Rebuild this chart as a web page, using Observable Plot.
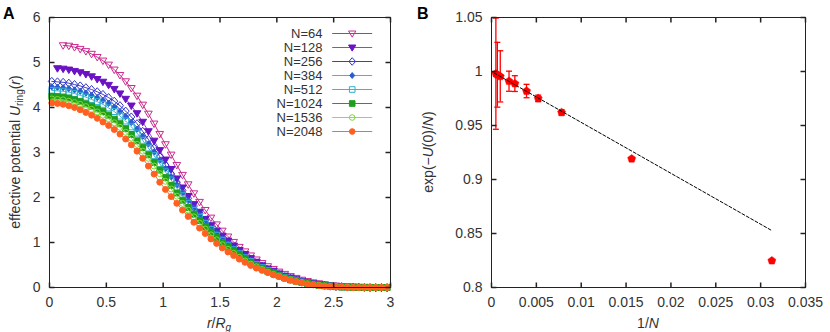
<!DOCTYPE html>
<html>
<head>
<meta charset="utf-8">
<script src="https://cdn.jsdelivr.net/npm/d3@7"></script>
<script src="https://cdn.jsdelivr.net/npm/@observablehq/plot@0.6"></script>
<style>
  html, body { margin: 0; padding: 0; background: #fff; }
  #wrap { position: relative; width: 830px; height: 332px; overflow: hidden; font-family: 'Liberation Sans', Arial, sans-serif; }
  #pa, #pb, #leg, #ov { position: absolute; top: 0; }
  #pa { left: 0; }
  #pb { left: 430px; }
  #leg { left: 230px; top: 22px; }
  #ov { left: 0; pointer-events: none; }
</style>
</head>
<body>
<div id="wrap">
  <div id="pa"></div>
  <div id="pb"></div>
  <div id="leg"></div>
  <svg id="ov" width="830" height="332" font-family="'Liberation Sans', Arial, sans-serif" font-size="14" fill="#333">
    <text x="3" y="18.5" font-weight="bold" font-size="16" fill="#000">A</text>
    <text x="417" y="18.5" font-weight="bold" font-size="16" fill="#000">B</text>
    <text x="219" y="327.5" text-anchor="middle"><tspan font-style="italic">r</tspan>/<tspan font-style="italic">R</tspan><tspan font-style="italic" font-size="10" dy="3">g</tspan></text>
    <text x="648" y="327.5" text-anchor="middle">1/<tspan font-style="italic">N</tspan></text>
    <text transform="translate(20,152) rotate(-90)" text-anchor="middle">effective potential <tspan font-style="italic">U</tspan><tspan font-size="10" dy="3">ring</tspan><tspan dy="-3">(</tspan><tspan font-style="italic">r</tspan>)</text>
    <text transform="translate(433,152) rotate(-90)" text-anchor="middle">exp(−<tspan font-style="italic">U</tspan>(0)/<tspan font-style="italic">N</tspan>)</text>
  </svg>
</div>
<script>
// ---------------- Panel A data ----------------
const rGrid = [
  0.02,0.07,0.12,0.17,0.22,0.27,0.32,0.37,0.42,0.47,
  0.52,0.57,0.62,0.67,0.72,0.77,0.82,0.87,0.92,0.97,
  1.02,1.07,1.12,1.17,1.22,1.27,1.32,1.37,1.42,1.47,
  1.52,1.57,1.62,1.67,1.72,1.77,1.82,1.87,1.92,1.97,
  2.02,2.07,2.12,2.17,2.22,2.27,2.32,2.37,2.42,2.47,
  2.52,2.57,2.62,2.67,2.72,2.77,2.82,2.87,2.92,2.97
];
const u64 = [
  null,null,5.38,5.37,5.34,5.30,5.25,5.19,5.12,5.04,
  4.95,4.84,4.72,4.58,4.43,4.26,4.06,3.86,3.64,3.41,
  3.18,2.95,2.72,2.50,2.29,2.09,1.90,1.72,1.55,1.40,
  1.26,1.13,1.01,0.90,0.80,0.71,0.62,0.54,0.47,0.41,
  0.35,0.30,0.25,0.21,0.17,0.14,0.11,0.09,0.07,0.05,
  0.04,0.03,0.02,0.02,0.01,0.01,0.01,0.00,0.00,0.00
];
const u128 = [
  null,4.87,4.86,4.84,4.81,4.78,4.74,4.69,4.63,4.57,
  4.50,4.41,4.31,4.19,4.04,3.87,3.68,3.47,3.26,3.05,
  2.84,2.63,2.42,2.22,2.03,1.85,1.68,1.52,1.38,1.26,
  1.15,1.04,0.93,0.83,0.74,0.65,0.57,0.49,0.42,0.37,
  0.31,0.26,0.22,0.18,0.14,0.11,0.09,0.07,0.05,0.04,
  0.03,0.02,0.02,0.01,0.01,0.01,0.00,0.00,0.00,0.00
];
const u256 = [
  4.58,4.57,4.56,4.54,4.51,4.48,4.44,4.40,4.35,4.29,
  4.22,4.14,4.04,3.92,3.79,3.64,3.47,3.29,3.10,2.91,
  2.72,2.53,2.34,2.16,1.98,1.81,1.65,1.50,1.36,1.23,
  1.11,1.00,0.89,0.79,0.70,0.62,0.54,0.47,0.40,0.34,
  0.29,0.24,0.20,0.16,0.13,0.10,0.08,0.06,0.05,0.03,
  0.02,0.02,0.01,0.01,0.01,0.00,0.00,0.00,0.00,0.00
];
const u384 = [
  4.46,4.45,4.44,4.42,4.39,4.36,4.32,4.27,4.22,4.16,
  4.09,4.01,3.91,3.80,3.67,3.52,3.36,3.19,3.01,2.83,
  2.64,2.46,2.28,2.10,1.93,1.76,1.61,1.46,1.32,1.20,
  1.08,0.97,0.86,0.77,0.68,0.60,0.52,0.45,0.39,0.33,
  0.28,0.23,0.19,0.15,0.12,0.10,0.07,0.06,0.04,0.03,
  0.02,0.02,0.01,0.01,0.00,0.00,0.00,0.00,0.00,0.00
];
const u512 = [
  4.38,4.37,4.36,4.34,4.31,4.27,4.23,4.18,4.13,4.07,
  3.99,3.91,3.81,3.70,3.57,3.43,3.27,3.10,2.93,2.75,
  2.57,2.39,2.21,2.04,1.87,1.71,1.56,1.42,1.29,1.16,
  1.05,0.94,0.84,0.75,0.66,0.58,0.51,0.44,0.38,0.32,
  0.27,0.22,0.18,0.15,0.12,0.09,0.07,0.05,0.04,0.03,
  0.02,0.01,0.01,0.01,0.00,0.00,0.00,0.00,0.00,0.00
];
const u1024 = [
  4.25,4.24,4.23,4.21,4.17,4.13,4.08,4.03,3.97,3.91,
  3.83,3.74,3.64,3.53,3.40,3.26,3.11,2.95,2.78,2.61,
  2.44,2.27,2.10,1.94,1.78,1.63,1.49,1.35,1.23,1.11,
  1.00,0.90,0.80,0.71,0.63,0.55,0.48,0.42,0.36,0.31,
  0.26,0.21,0.17,0.14,0.11,0.09,0.07,0.05,0.04,0.03,
  0.02,0.01,0.01,0.00,0.00,0.00,0.00,0.00,0.00,0.00
];
const u1536 = [
  4.19,4.18,4.17,4.14,4.11,4.07,4.02,3.96,3.90,3.83,
  3.75,3.66,3.56,3.45,3.32,3.18,3.03,2.87,2.70,2.53,
  2.36,2.19,2.03,1.87,1.72,1.57,1.43,1.30,1.17,1.06,
  0.95,0.85,0.76,0.67,0.59,0.52,0.46,0.40,0.34,0.29,
  0.25,0.20,0.17,0.13,0.11,0.08,0.06,0.05,0.03,0.02,
  0.02,0.01,0.01,0.00,0.00,0.00,0.00,0.00,0.00,0.00
];
const u2048 = [
  4.10,4.09,4.07,4.04,4.00,3.95,3.89,3.83,3.76,3.68,
  3.60,3.51,3.41,3.30,3.17,3.03,2.87,2.70,2.52,2.34,
  2.18,2.02,1.87,1.72,1.58,1.45,1.32,1.20,1.08,0.98,
  0.88,0.79,0.71,0.63,0.56,0.49,0.43,0.38,0.33,0.28,
  0.24,0.20,0.16,0.13,0.10,0.08,0.06,0.04,0.03,0.02,
  0.01,0.01,0.00,0.00,0.00,0.00,0.00,0.00,0.00,0.00
];
const seriesNames = ["N=64","N=128","N=256","N=384","N=512","N=1024","N=1536","N=2048"];
const lineColors  = ["#cc2a8e","#9445d4","#3b3bd0","#6f9de2","#3ab6d2","#1e9e1e","#8ddf45","#ff6a2a"];
const markColors  = ["#cc2a8e","#6a12c4","#3535cc","#2a5cd0","#30b0cc","#1e9e1e","#80d83a","#ff6020"];
const xTicksA = [0,0.5,1,1.5,2,2.5,3];
const xLabelsA = ["0","0.5","1","1.5","2","2.5","3"];
const yTicksA = [0,1,2,3,4,5,6];
const yLabelsA = ["0","1","2","3","4","5","6"];

// ---------------- Panel B data ----------------
const invN = [0.000488,0.000651,0.000977,0.001953,0.002604,0.003906,0.005208,0.0078125,0.015625,0.03125];
const expU = [0.998,0.997,0.9955,0.991,0.9888,0.9819,0.9751,0.9621,0.9192,0.8248];
const errU = [0.0515,0.030,0.0237,0.0093,0.0073,0.0062,0.003,0.0025,0,0];
const fitX = [0.0003,0.03125];
const fitY = [0.9986,0.8527];
const xTicksB = [0,0.005,0.01,0.015,0.02,0.025,0.03,0.035];
const xLabelsB = ["0","0.005","0.01","0.015","0.02","0.025","0.03","0.035"];
const yTicksB = [0.8,0.85,0.9,0.95,1,1.05];
const yLabelsB = ["0.8","0.85","0.9","0.95","1","1.05"];

// ---------------- symbols ----------------
const rad = s => Math.sqrt(s / Math.PI);
const symTriDown = {draw(c, s){ const r = rad(s); c.moveTo(-r*1.1, -r*0.75); c.lineTo(r*1.1, -r*0.75); c.lineTo(0, r*1.1); c.closePath(); }};
const symDiamond = {draw(c, s){ const r = rad(s); c.moveTo(0, -r*1.15); c.lineTo(r, 0); c.lineTo(0, r*1.15); c.lineTo(-r, 0); c.closePath(); }};
const symSmallDiamond = {draw(c, s){ const r = rad(s)*0.75; c.moveTo(0, -r*1.2); c.lineTo(r, 0); c.lineTo(0, r*1.2); c.lineTo(-r, 0); c.closePath(); }};
const symSquare = {draw(c, s){ const r = rad(s)*0.85; c.moveTo(-r,-r); c.lineTo(r,-r); c.lineTo(r,r); c.lineTo(-r,r); c.closePath(); }};
const symCircle = {draw(c, s){ const r = rad(s)*0.85; c.moveTo(r, 0); c.arc(0, 0, r, 0, 2*Math.PI); }};
const symPentagon = {draw(c, s){ const r = rad(s); for (let k = 0; k < 5; k++){ const a = -Math.PI/2 + k*2*Math.PI/5; const px = r*Math.cos(a), py = r*Math.sin(a); if (k===0) c.moveTo(px,py); else c.lineTo(px,py);} c.closePath(); }};
const symCap = {draw(c){ c.moveTo(-3, 0); c.lineTo(3, 0); }};
const TL = 5;
const tickUp = {draw(c){ c.moveTo(0,0); c.lineTo(0,-TL); }};
const tickDown = {draw(c){ c.moveTo(0,0); c.lineTo(0,TL); }};
const tickRight = {draw(c){ c.moveTo(0,0); c.lineTo(TL,0); }};
const tickLeft = {draw(c){ c.moveTo(0,0); c.lineTo(-TL,0); }};

const markSyms = [symTriDown, symTriDown, symDiamond, symSmallDiamond, symSquare, symSquare, symCircle, symCircle];
const markFilled = [false, true, false, true, false, true, false, true];
const uAll = [u64,u128,u256,u384,u512,u1024,u1536,u2048];

const series = seriesNames.map((name, k) => ({
  name, line: lineColors[k], mark: markColors[k], sym: markSyms[k], filled: markFilled[k],
  rows: rGrid.map((r, i) => ({r, U: uAll[k][i]})).filter(d => d.U != null)
}));

const style = {fontFamily: "'Liberation Sans', Arial, sans-serif", fontSize: "14px", color: "#333", background: "transparent", overflow: "visible"};

function frameTicks(xT, yT, xDom, yDom) {
  return [
    Plot.dot(xT, {x: d => d, y: yDom[0], symbol: tickUp, stroke: "#222", fill: "none"}),
    Plot.dot(xT, {x: d => d, y: yDom[1], symbol: tickDown, stroke: "#222", fill: "none"}),
    Plot.dot(yT, {y: d => d, x: xDom[0], symbol: tickRight, stroke: "#222", fill: "none"}),
    Plot.dot(yT, {y: d => d, x: xDom[1], symbol: tickLeft, stroke: "#222", fill: "none"})
  ];
}

// ---------------- Panel A ----------------
const xDomA = [0, 3], yDomA = [0, 6];
const marksA = [
  Plot.axisX(xTicksA, {tickSize: 0, tickPadding: 10, tickFormat: d => xLabelsA[xTicksA.indexOf(d)], label: null}),
  Plot.axisY(yTicksA, {tickSize: 0, tickPadding: 9, tickFormat: d => yLabelsA[yTicksA.indexOf(d)], label: null})
];
for (const s of series) {
  marksA.push(Plot.line(s.rows, {x: "r", y: "U", stroke: s.line, strokeWidth: 1}));
  marksA.push(Plot.dot(s.rows, {x: "r", y: "U", symbol: s.sym, r: 3.5, stroke: s.mark, strokeWidth: 1, fill: s.filled ? s.mark : "none"}));
}
marksA.push(...frameTicks(xTicksA, yTicksA, xDomA, yDomA));
marksA.push(Plot.frame({stroke: "#222"}));

const chartA = Plot.plot({
  width: 430, height: 332, marginLeft: 49, marginRight: 40, marginTop: 17, marginBottom: 45,
  x: {domain: xDomA, label: null}, y: {domain: yDomA, label: null},
  style, marks: marksA
});
document.getElementById("pa").appendChild(chartA);

// ---------------- Legend ----------------
const legTextX = 92, legLine = [101.7, 141.7], legMarkX = 121.7;
const legMarks = [Plot.text(series, {x: legTextX, y: "name", text: "name", textAnchor: "end", fill: "#333", fontSize: 13})];
for (const s of series) {
  legMarks.push(Plot.link([s], {x1: legLine[0], x2: legLine[1], y1: d => d.name, y2: d => d.name, stroke: s.line, strokeWidth: 1}));
  legMarks.push(Plot.dot([s], {x: legMarkX, y: d => d.name, symbol: s.sym, r: 3.3, stroke: s.mark, strokeWidth: 1, fill: s.filled ? s.mark : "none"}));
}
const legend = Plot.plot({
  width: 150, height: 120, marginLeft: 0, marginRight: 0, marginTop: 8, marginBottom: 8.7,
  x: {domain: [0, 150], axis: null}, y: {type: "point", domain: seriesNames, padding: 0, axis: null},
  style, marks: legMarks
});
document.getElementById("leg").appendChild(legend);

// ---------------- Panel B ----------------
const xDomB = [0, 0.035], yDomB = [0.8, 1.05];
const pts = invN.map((x, i) => ({x, y: expU[i], e: errU[i]}));
const errPts = pts.filter(d => d.e > 0);
const fitRows = fitX.map((x, i) => ({x, y: fitY[i]}));
const chartB = Plot.plot({
  width: 400, height: 332, marginLeft: 61, marginRight: 25, marginTop: 17, marginBottom: 45,
  x: {domain: xDomB, label: null}, y: {domain: yDomB, label: null},
  style,
  marks: [
    Plot.axisX(xTicksB, {tickSize: 0, tickPadding: 10, tickFormat: d => xLabelsB[xTicksB.indexOf(d)], label: null}),
    Plot.axisY(yTicksB, {tickSize: 0, tickPadding: 9, tickFormat: d => yLabelsB[yTicksB.indexOf(d)], label: null}),
    Plot.ruleX(errPts, {x: "x", y1: d => d.y - d.e, y2: d => d.y + d.e, stroke: "#f00", strokeWidth: 1.3}),
    Plot.dot(errPts, {x: "x", y: d => d.y - d.e, symbol: symCap, stroke: "#f00", strokeWidth: 1.3, fill: "none"}),
    Plot.dot(errPts, {x: "x", y: d => d.y + d.e, symbol: symCap, stroke: "#f00", strokeWidth: 1.3, fill: "none"}),
    Plot.dot(pts, {x: "x", y: "y", symbol: symPentagon, r: 4.2, fill: "#f00", stroke: "#f00", strokeWidth: 0.5}),
    Plot.line(fitRows, {x: "x", y: "y", stroke: "#000", strokeWidth: 1, strokeDasharray: "3,2"}),
    ...frameTicks(xTicksB, yTicksB, xDomB, yDomB),
    Plot.frame({stroke: "#222"})
  ]
});
document.getElementById("pb").appendChild(chartB);
</script>
</body>
</html>
